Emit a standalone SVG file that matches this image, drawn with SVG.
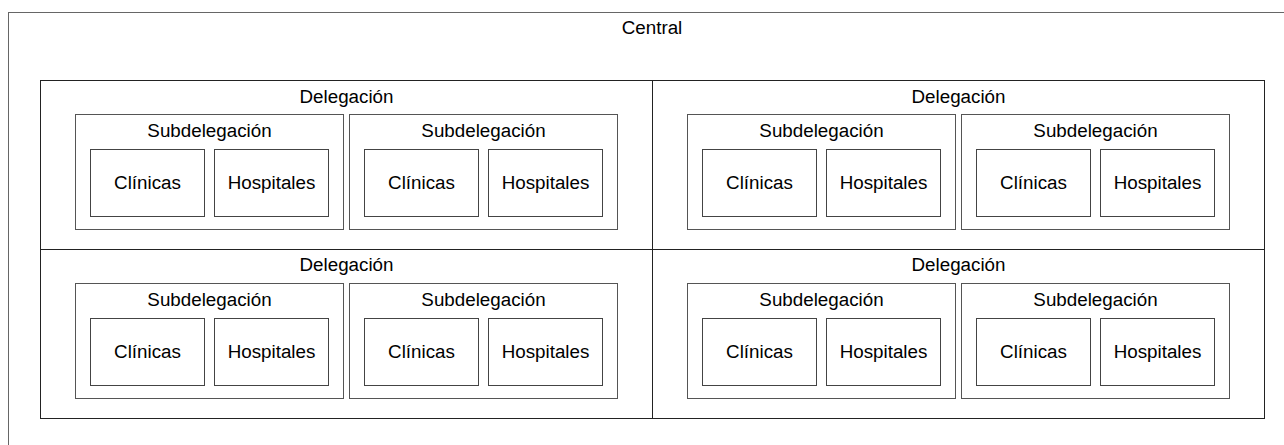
<svg xmlns="http://www.w3.org/2000/svg" width="1284" height="445" viewBox="0 0 1284 445">
<style>
text{font-family:"Liberation Sans",Arial,sans-serif;font-size:18.8px;fill:#000;text-anchor:middle}
.central{fill:#fff;stroke:#666;stroke-width:1}
.deleg{fill:none;stroke:#222;stroke-width:1}
.sub{fill:#fff;stroke:#555;stroke-width:1}
.leaf{fill:#fff;stroke:#444;stroke-width:1}
</style>
<rect width="1284" height="445" fill="#fff"/>
<g id="central">
<rect class="central" x="8.5" y="12.5" width="1300" height="450"/>
<text x="652" y="34">Central</text>
</g>
<g id="connectors"/>
<g id="deleg-1" transform="translate(40.5,80.5)">
<rect class="deleg" x="0" y="0" width="612" height="169"/>
<text x="306" y="22">Delegación</text>
<g id="deleg-1-sub-1" transform="translate(35,34)">
<rect class="sub" width="268" height="115"/>
<text x="134" y="22">Subdelegación</text>
<g id="deleg-1-sub-1-clinicas"><rect class="leaf" x="15" y="35" width="114" height="67"/><text x="72" y="74.5">Clínicas</text></g>
<g id="deleg-1-sub-1-hospitales"><rect class="leaf" x="139" y="35" width="114" height="67"/><text x="196" y="74.5">Hospitales</text></g>
</g>
<g id="deleg-1-sub-2" transform="translate(309,34)">
<rect class="sub" width="268" height="115"/>
<text x="134" y="22">Subdelegación</text>
<g id="deleg-1-sub-2-clinicas"><rect class="leaf" x="15" y="35" width="114" height="67"/><text x="72" y="74.5">Clínicas</text></g>
<g id="deleg-1-sub-2-hospitales"><rect class="leaf" x="139" y="35" width="114" height="67"/><text x="196" y="74.5">Hospitales</text></g>
</g>
</g>
<g id="deleg-2" transform="translate(652.5,80.5)">
<rect class="deleg" x="0" y="0" width="612" height="169"/>
<text x="306" y="22">Delegación</text>
<g id="deleg-2-sub-1" transform="translate(35,34)">
<rect class="sub" width="268" height="115"/>
<text x="134" y="22">Subdelegación</text>
<g id="deleg-2-sub-1-clinicas"><rect class="leaf" x="15" y="35" width="114" height="67"/><text x="72" y="74.5">Clínicas</text></g>
<g id="deleg-2-sub-1-hospitales"><rect class="leaf" x="139" y="35" width="114" height="67"/><text x="196" y="74.5">Hospitales</text></g>
</g>
<g id="deleg-2-sub-2" transform="translate(309,34)">
<rect class="sub" width="268" height="115"/>
<text x="134" y="22">Subdelegación</text>
<g id="deleg-2-sub-2-clinicas"><rect class="leaf" x="15" y="35" width="114" height="67"/><text x="72" y="74.5">Clínicas</text></g>
<g id="deleg-2-sub-2-hospitales"><rect class="leaf" x="139" y="35" width="114" height="67"/><text x="196" y="74.5">Hospitales</text></g>
</g>
</g>
<g id="deleg-3" transform="translate(40.5,249.5)">
<rect class="deleg" x="0" y="0" width="612" height="169"/>
<text x="306" y="21">Delegación</text>
<g id="deleg-3-sub-1" transform="translate(35,34)">
<rect class="sub" width="268" height="115"/>
<text x="134" y="22">Subdelegación</text>
<g id="deleg-3-sub-1-clinicas"><rect class="leaf" x="15" y="35" width="114" height="67"/><text x="72" y="74.5">Clínicas</text></g>
<g id="deleg-3-sub-1-hospitales"><rect class="leaf" x="139" y="35" width="114" height="67"/><text x="196" y="74.5">Hospitales</text></g>
</g>
<g id="deleg-3-sub-2" transform="translate(309,34)">
<rect class="sub" width="268" height="115"/>
<text x="134" y="22">Subdelegación</text>
<g id="deleg-3-sub-2-clinicas"><rect class="leaf" x="15" y="35" width="114" height="67"/><text x="72" y="74.5">Clínicas</text></g>
<g id="deleg-3-sub-2-hospitales"><rect class="leaf" x="139" y="35" width="114" height="67"/><text x="196" y="74.5">Hospitales</text></g>
</g>
</g>
<g id="deleg-4" transform="translate(652.5,249.5)">
<rect class="deleg" x="0" y="0" width="612" height="169"/>
<text x="306" y="21">Delegación</text>
<g id="deleg-4-sub-1" transform="translate(35,34)">
<rect class="sub" width="268" height="115"/>
<text x="134" y="22">Subdelegación</text>
<g id="deleg-4-sub-1-clinicas"><rect class="leaf" x="15" y="35" width="114" height="67"/><text x="72" y="74.5">Clínicas</text></g>
<g id="deleg-4-sub-1-hospitales"><rect class="leaf" x="139" y="35" width="114" height="67"/><text x="196" y="74.5">Hospitales</text></g>
</g>
<g id="deleg-4-sub-2" transform="translate(309,34)">
<rect class="sub" width="268" height="115"/>
<text x="134" y="22">Subdelegación</text>
<g id="deleg-4-sub-2-clinicas"><rect class="leaf" x="15" y="35" width="114" height="67"/><text x="72" y="74.5">Clínicas</text></g>
<g id="deleg-4-sub-2-hospitales"><rect class="leaf" x="139" y="35" width="114" height="67"/><text x="196" y="74.5">Hospitales</text></g>
</g>
</g>
</svg>
